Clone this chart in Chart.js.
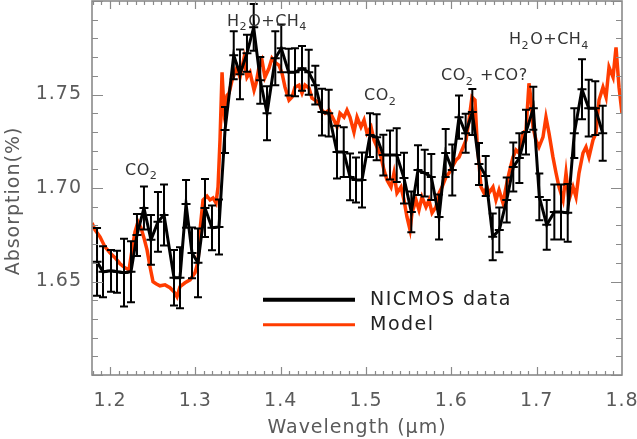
<!DOCTYPE html>
<html>
<head>
<meta charset="utf-8">
<script src="https://cdn.jsdelivr.net/npm/chart.js@4.4.0/dist/chart.umd.min.js"></script>
<style>
   html, body { margin: 0; padding: 0; background: #fff; }
</style>
</head>
<body>
<canvas id="myChart" width="637" height="439"></canvas>
<script>
// ============  data  ============

// NICMOS points: wavelength (micron), absorption (%), 1-sigma error
const nicmosX = [
   1.1848, 1.1918, 1.2012, 1.2082, 1.2164, 1.2246, 1.2316, 1.2398, 1.2480, 1.2562,
   1.2633, 1.2750, 1.2820, 1.2891, 1.2961, 1.3031, 1.3113, 1.3195, 1.3277, 1.3348,
   1.3450, 1.3523, 1.3605, 1.3684, 1.3761, 1.3840, 1.3937, 1.4007, 1.4094, 1.4168,
   1.4250, 1.4329, 1.4406, 1.4484, 1.4563, 1.4660, 1.4739, 1.4813, 1.4883, 1.4953,
   1.5047, 1.5125, 1.5203, 1.5281, 1.5360, 1.5445, 1.5531, 1.5609, 1.5688, 1.5765,
   1.5856, 1.5934, 1.6011, 1.6090, 1.6168, 1.6246, 1.6324, 1.6403, 1.6485, 1.6562,
   1.6649, 1.6726, 1.6797, 1.6875, 1.6961, 1.7031, 1.7118, 1.7207, 1.7285, 1.7364,
   1.7441, 1.7531, 1.7610, 1.7687, 1.7774
];
const nicmosY = [
   1.6605, 1.6552, 1.6557, 1.6552, 1.6547, 1.6552, 1.6749, 1.6893, 1.6723, 1.6819,
   1.6856, 1.6520, 1.6520, 1.6915, 1.6653, 1.6600, 1.6893, 1.6787, 1.6792, 1.7310,
   1.7710, 1.7608, 1.7720, 1.7859, 1.7576, 1.7400, 1.7694, 1.7747, 1.7619, 1.7619,
   1.7640, 1.7619, 1.7550, 1.7406, 1.7400, 1.7192, 1.7192, 1.7059, 1.7043, 1.7043,
   1.7283, 1.7272, 1.7176, 1.7176, 1.7176, 1.7053, 1.6872, 1.7096, 1.7080, 1.7059,
   1.6845, 1.7187, 1.7096, 1.7379, 1.7293, 1.7406, 1.7128, 1.7064, 1.6739, 1.6776,
   1.6936, 1.7112, 1.7160, 1.7299, 1.7427, 1.6952, 1.6803, 1.6872, 1.6872, 1.6867,
   1.7293, 1.7528, 1.7427, 1.7427, 1.7293
];
const nicmosErr = [
   0.0181, 0.0136, 0.0112, 0.0112, 0.0181, 0.0163, 0.0112, 0.0115, 0.0133, 0.0160,
   0.0163, 0.0149, 0.0163, 0.0128, 0.0136, 0.0184, 0.0155, 0.0120, 0.0147, 0.0123,
   0.0128, 0.0133, 0.0099, 0.0125, 0.0125, 0.0144, 0.0144, 0.0128, 0.0125, 0.0128,
   0.0120, 0.0120, 0.0104, 0.0125, 0.0125, 0.0141, 0.0133, 0.0125, 0.0120, 0.0147,
   0.0117, 0.0123, 0.0109, 0.0131, 0.0144, 0.0136, 0.0109, 0.0133, 0.0125, 0.0123,
   0.0120, 0.0128, 0.0136, 0.0115, 0.0104, 0.0123, 0.0112, 0.0107, 0.0125, 0.0120,
   0.0120, 0.0131, 0.0133, 0.0120, 0.0115, 0.0125, 0.0133, 0.0147, 0.0147, 0.0155,
   0.0133, 0.0160, 0.0152, 0.0144, 0.0147
];

// model spectrum
const modelX = [
   1.1789, 1.1824, 1.1883, 1.1941, 1.2000, 1.2059, 1.2117, 1.2176, 1.2223, 1.2258,
   1.2293, 1.2328, 1.2363, 1.2398, 1.2434, 1.2469, 1.2504, 1.2539, 1.2586, 1.2645,
   1.2703, 1.2750, 1.2785, 1.2820, 1.2879, 1.2938, 1.2996, 1.3031, 1.3055, 1.3090,
   1.3137, 1.3172, 1.3207, 1.3242, 1.3266, 1.3289, 1.3313, 1.3336, 1.3371, 1.3395,
   1.3430, 1.3488, 1.3523, 1.3570, 1.3605, 1.3641, 1.3688, 1.3711, 1.3746, 1.3781,
   1.3816, 1.3863, 1.3898, 1.3934, 1.3981, 1.4016, 1.4051, 1.4098, 1.4133, 1.4168,
   1.4215, 1.4250, 1.4285, 1.4332, 1.4367, 1.4402, 1.4449, 1.4484, 1.4520, 1.4566,
   1.4625, 1.4660, 1.4695, 1.4742, 1.4777, 1.4812, 1.4859, 1.4895, 1.4941, 1.4977,
   1.5012, 1.5059, 1.5094, 1.5129, 1.5176, 1.5211, 1.5246, 1.5293, 1.5328, 1.5363,
   1.5410, 1.5445, 1.5480, 1.5516, 1.5539, 1.5586, 1.5621, 1.5656, 1.5703, 1.5738,
   1.5774, 1.5820, 1.5856, 1.5891, 1.5938, 1.5973, 1.6008, 1.6055, 1.6090, 1.6125,
   1.6172, 1.6207, 1.6242, 1.6277, 1.6301, 1.6348, 1.6383, 1.6418, 1.6441, 1.6488,
   1.6523, 1.6559, 1.6605, 1.6641, 1.6676, 1.6723, 1.6758, 1.6793, 1.6840, 1.6875,
   1.6910, 1.6934, 1.6957, 1.6992, 1.7027, 1.7074, 1.7109, 1.7145, 1.7191, 1.7227,
   1.7262, 1.7309, 1.7344, 1.7379, 1.7426, 1.7461, 1.7496, 1.7543, 1.7578, 1.7613,
   1.7660, 1.7695, 1.7731, 1.7777, 1.7813, 1.7848, 1.7895, 1.7930, 1.7965, 1.8000
];
const modelY = [
   1.6813, 1.6776, 1.6739, 1.6685, 1.6653, 1.6627, 1.6595, 1.6573, 1.6563, 1.6669,
   1.6765, 1.6819, 1.6787, 1.6733, 1.6669, 1.6579, 1.6499, 1.6488, 1.6477, 1.6482,
   1.6467, 1.6445, 1.6419, 1.6472, 1.6493, 1.6509, 1.6547, 1.6605, 1.6776, 1.6936,
   1.6957, 1.6936, 1.6947, 1.6920, 1.7005, 1.7256, 1.7619, 1.7416, 1.7496, 1.7507,
   1.7576, 1.7646, 1.7592, 1.7694, 1.7592, 1.7619, 1.7523, 1.7560, 1.7646, 1.7683,
   1.7592, 1.7640, 1.7694, 1.7672, 1.7656, 1.7614, 1.7539, 1.7470, 1.7486, 1.7539,
   1.7550, 1.7507, 1.7550, 1.7534, 1.7480, 1.7470, 1.7454, 1.7416, 1.7400, 1.7416,
   1.7363, 1.7326, 1.7400, 1.7379, 1.7416, 1.7379, 1.7299, 1.7379, 1.7326, 1.7363,
   1.7293, 1.7326, 1.7256, 1.7219, 1.7165, 1.7096, 1.7043, 1.7005, 1.7080, 1.6973,
   1.7005, 1.6936, 1.6845, 1.6776, 1.6867, 1.6936, 1.6883, 1.6952, 1.6899, 1.6936,
   1.6867, 1.6899, 1.6973, 1.7005, 1.7059, 1.7080, 1.7112, 1.7149, 1.7165, 1.7203,
   1.7256, 1.7363, 1.7486, 1.7470, 1.7256, 1.7005, 1.6973, 1.7005, 1.6973, 1.7005,
   1.6936, 1.6989, 1.6920, 1.7005, 1.7080, 1.7165, 1.7203, 1.7187, 1.7293, 1.7310,
   1.7560, 1.7470, 1.7326, 1.7256, 1.7219, 1.7272, 1.7379, 1.7293, 1.7165, 1.7080,
   1.7005, 1.6936, 1.7080, 1.6936, 1.7005, 1.6952, 1.7080, 1.7187, 1.7219, 1.7165,
   1.7256, 1.7293, 1.7470, 1.7539, 1.7486, 1.7646, 1.7592, 1.7752, 1.7539, 1.7400
];

// axis ticks
const xTicks = [1.2, 1.3, 1.4, 1.5, 1.6, 1.7, 1.8];
const yTicks = [1.65, 1.70, 1.75];

const FONT = "'DejaVu Sans', sans-serif";
const RED = '#ff3c00';
const AXIS_TEXT = '#5a5a5a';

// ============  plugins  ============

// wider letter spacing, like the old IDL vector font
const spacingPlugin = {
   id: 'spacing',
   beforeDraw(chart) {
      chart.ctx.letterSpacing = '1px';
   }
};

// IDL style box with inward ticks on all four sides
const framePlugin = {
   id: 'frame',
   afterDraw(chart) {
      const { ctx, chartArea: a, scales: { x, y } } = chart;
      ctx.save();
      ctx.strokeStyle = '#8a8a8a';
      ctx.lineWidth = 1.6;
      ctx.strokeRect(a.left, a.top, a.right - a.left, a.bottom - a.top);
      ctx.lineWidth = 1.2;
      ctx.beginPath();
      for (let k = 118; k <= 180; k++) {
         const px = Math.round(x.getPixelForValue(k / 100)) + 0.5;
         if (px < a.left || px > a.right) continue;
         const len = k % 10 === 0 ? 8 : 4;
         ctx.moveTo(px, a.bottom); ctx.lineTo(px, a.bottom - len);
         ctx.moveTo(px, a.top); ctx.lineTo(px, a.top + len);
      }
      for (let k = 160; k <= 180; k++) {
         const py = Math.round(y.getPixelForValue(k / 100)) + 0.5;
         const len = k % 5 === 0 ? 11 : 6;
         ctx.moveTo(a.left, py); ctx.lineTo(a.left + len, py);
         ctx.moveTo(a.right, py); ctx.lineTo(a.right - len, py);
      }
      ctx.stroke();

      // y title
      ctx.fillStyle = AXIS_TEXT;
      ctx.font = '19px ' + FONT;
      ctx.letterSpacing = '1px';
      ctx.textAlign = 'center';
      ctx.textBaseline = 'middle';
      ctx.translate(14, 201);
      ctx.rotate(-Math.PI / 2);
      ctx.fillText('Absorption(%)', 0, 0);
      ctx.restore();
   }
};

// error bars + bin bars for the NICMOS points
const errorBarPlugin = {
   id: 'errbars',
   afterDatasetsDraw(chart) {
      const { ctx, scales: { x, y } } = chart;
      ctx.save();
      ctx.strokeStyle = '#000';
      ctx.lineWidth = 2;
      ctx.beginPath();
      nicmosX.forEach((xv, i) => {
         const px = x.getPixelForValue(xv);
         const pc = y.getPixelForValue(nicmosY[i]);
         const pt = y.getPixelForValue(nicmosY[i] + nicmosErr[i]);
         const pb = y.getPixelForValue(nicmosY[i] - nicmosErr[i]);
         ctx.moveTo(px, pt); ctx.lineTo(px, pb);
         ctx.moveTo(px - 4, pt); ctx.lineTo(px + 4, pt);
         ctx.moveTo(px - 4, pb); ctx.lineTo(px + 4, pb);
         ctx.moveTo(px - 4.5, pc); ctx.lineTo(px + 4.5, pc);
      });
      ctx.stroke();
      ctx.restore();
   }
};

// text with subscripts
function drawChem(ctx, parts, x, y, size) {
   let cx = x;
   parts.forEach(([txt, sub]) => {
      ctx.font = (sub ? size * 0.7 : size) + 'px ' + FONT;
      ctx.fillText(txt, cx, sub ? y + size * 0.35 : y);
      cx += ctx.measureText(txt).width + (sub ? 1 : 0);
   });
}

const notes = [
   { x: 1.2176, y: 1.7091, parts: [['CO', 0], ['2', 1]] },
   { x: 1.3371, y: 1.7891, parts: [['H', 0], ['2', 1], ['O+CH', 0], ['4', 1]] },
   { x: 1.4977, y: 1.7491, parts: [['CO', 0], ['2', 1]] },
   { x: 1.5879, y: 1.7598, parts: [['CO', 0], ['2', 1], [' +CO?', 0]] },
   { x: 1.6676, y: 1.7790, parts: [['H', 0], ['2', 1], ['O+CH', 0], ['4', 1]] },
];

const notesPlugin = {
   id: 'notes',
   afterDraw(chart) {
      const { ctx, scales: { x, y } } = chart;
      ctx.save();
      ctx.fillStyle = '#333';
      ctx.textAlign = 'left';
      ctx.textBaseline = 'middle';
      ctx.letterSpacing = '0.5px';
      notes.forEach(n => drawChem(ctx, n.parts, x.getPixelForValue(n.x), y.getPixelForValue(n.y), 16));

      // legend
      const lx0 = x.getPixelForValue(1.3793), lx1 = x.getPixelForValue(1.4871);
      const tx = x.getPixelForValue(1.5047);
      const rows = [
         { label: 'NICMOS data', color: '#000', w: 4, y: y.getPixelForValue(1.6402) },
         { label: 'Model', color: RED, w: 3, y: y.getPixelForValue(1.6269) },
      ];
      ctx.letterSpacing = '1.5px';
      rows.forEach(r => {
         ctx.strokeStyle = r.color;
         ctx.lineWidth = r.w;
         ctx.beginPath();
         ctx.moveTo(lx0, r.y); ctx.lineTo(lx1, r.y);
         ctx.stroke();
         ctx.fillStyle = '#222';
         ctx.font = '19px ' + FONT;
         ctx.fillText(r.label, tx, r.y);
      });
      ctx.restore();
   }
};

// ============  chart  ============

let ctx = document.getElementById('myChart').getContext('2d');
let myChart = new Chart(ctx, {
   type: 'line',
   data: {
      datasets: [{
         label: 'NICMOS data',
         data: nicmosX.map((v, i) => ({ x: v, y: nicmosY[i] })),
         borderColor: '#000',
         borderWidth: 3,
         pointRadius: 0,
         tension: 0,
      }, {
         label: 'Model',
         data: modelX.map((v, i) => ({ x: v, y: modelY[i] })),
         borderColor: RED,
         borderWidth: 3.5,
         pointRadius: 0,
         tension: 0,
      }],
   },
   options: {
      responsive: false,
      animation: false,
      devicePixelRatio: 1,
      layout: {
         padding: { top: 1, right: 15, left: 0, bottom: 0 },
      },
      scales: {
         x: {
            type: 'linear',
            min: 1.1789,
            max: 1.8,
            afterBuildTicks: s => { s.ticks = xTicks.map(v => ({ value: v })); },
            afterFit: s => {
               s.height = 64;
               s.paddingLeft = 0;
               s.paddingRight = 0;
            },
            grid: { display: false, drawTicks: false },
            border: { display: false },
            ticks: {
               autoSkip: false,
               maxRotation: 0,
               padding: 15,
               color: AXIS_TEXT,
               font: { family: FONT, size: 19 },
               callback: v => v.toFixed(1),
            },
            title: {
               display: true,
               text: 'Wavelength (μm)',
               color: AXIS_TEXT,
               font: { family: FONT, size: 19 },
               padding: { top: 0, bottom: 0 },
            },
         },
         y: {
            type: 'linear',
            min: 1.60,
            max: 1.80,
            afterBuildTicks: s => { s.ticks = yTicks.map(v => ({ value: v })); },
            afterFit: s => {
               s.width = 92;
               s.paddingTop = 0;
               s.paddingBottom = 0;
            },
            grid: { display: false, drawTicks: false },
            border: { display: false },
            ticks: {
               padding: 10,
               color: AXIS_TEXT,
               font: { family: FONT, size: 19 },
               callback: v => v.toFixed(2),
            },
         },
      },
      plugins: {
         legend: { display: false },
         tooltip: { enabled: false },
      },
   },
   plugins: [spacingPlugin, framePlugin, errorBarPlugin, notesPlugin],
});
</script>
</body>
</html>
